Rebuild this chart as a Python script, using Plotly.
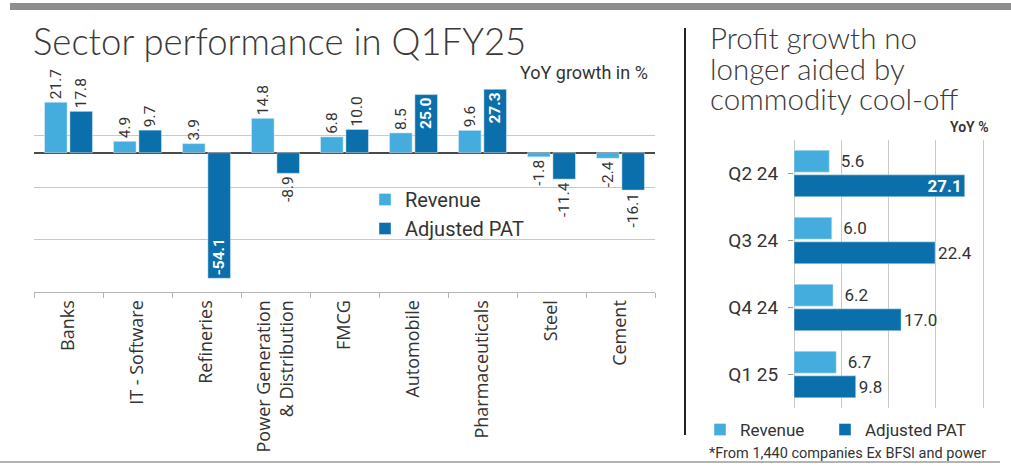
import plotly.graph_objects as go

# ---------------- data ----------------
sectors = ["Banks", "IT - Software", "Refineries", "Power Generation<br>& Distribution",
           "FMCG", "Automobile", "Pharmaceuticals", "Steel", "Cement"]
sector_revenue = [21.7, 4.9, 3.9, 14.8, 6.8, 8.5, 9.6, -1.8, -2.4]
sector_pat = [17.8, 9.7, -54.1, -8.9, 10.0, 25.0, 27.3, -11.4, -16.1]
pat_label_pos = ["outside", "outside", "inside", "outside", "outside", "inside", "inside", "outside", "outside"]

quarters = ["Q2 24", "Q3 24", "Q4 24", "Q1 25"]
quarter_revenue = [5.6, 6.0, 6.2, 6.7]
quarter_pat = [27.1, 22.4, 17.0, 9.8]
quarter_pat_pos = ["inside", "outside", "outside", "outside"]

# ---------------- style ----------------
W, H = 1011, 466
LIGHT = "#45ACDE"
DARK = "#0A6FAA"
TXT = "#333333"
GRID = "#C9C9C9"
FONT = "Roboto"


def fx(p):
    return p / W


def fy(p):
    return 1 - p / H


fig = go.Figure()

fig.add_trace(go.Bar(
    x=sectors, y=sector_revenue, name="Revenue", marker_color=LIGHT,
    texttemplate="%{y:.1f}", textposition="outside", textangle=-90,
    outsidetextfont=dict(family=FONT, size=15.5, color=TXT),
    constraintext="none", cliponaxis=False,
    xaxis="x", yaxis="y", legend="legend",
))
fig.add_trace(go.Bar(
    x=sectors, y=sector_pat, name="Adjusted PAT", marker_color=DARK,
    texttemplate="%{y:.1f}", textposition=pat_label_pos, textangle=-90,
    insidetextanchor="end",
    outsidetextfont=dict(family=FONT, size=15.5, color=TXT),
    insidetextfont=dict(family=FONT, size=15.5, color="white", weight="bold"),
    constraintext="none", cliponaxis=False,
    xaxis="x", yaxis="y", legend="legend",
))

fig.add_trace(go.Bar(
    y=quarters, x=quarter_revenue, orientation="h", name="Revenue", marker_color=LIGHT,
    texttemplate="  %{x:.1f}", textposition="outside", textangle=0,
    outsidetextfont=dict(family=FONT, size=17, color=TXT),
    constraintext="none", cliponaxis=False,
    xaxis="x2", yaxis="y2", legend="legend2",
))
fig.add_trace(go.Bar(
    y=quarters, x=quarter_pat, orientation="h", name="Adjusted PAT", marker_color=DARK,
    texttemplate="%{x:.1f}", textposition=quarter_pat_pos, textangle=0,
    insidetextanchor="end",
    outsidetextfont=dict(family=FONT, size=17, color=TXT),
    insidetextfont=dict(family=FONT, size=17, color="white", weight="bold"),
    constraintext="none", cliponaxis=False,
    xaxis="x2", yaxis="y2", legend="legend3",
))

fig.update_layout(
    width=W, height=H, autosize=False,
    margin=dict(l=0, r=0, t=0, b=0),
    paper_bgcolor="white", plot_bgcolor="white",
    barmode="group", bargap=0.265, bargroupgap=0.11,
    font=dict(family=FONT, color=TXT),
    xaxis=dict(
        domain=[fx(34), fx(655)], anchor="y",
        tickangle=-90, tickfont=dict(family="Open Sans", size=18, color=TXT),
        showline=True, linecolor="#B5B5B5", linewidth=1,
        ticks="outside", tickson="boundaries", ticklen=5, tickcolor="#B5B5B5",
        showgrid=False, fixedrange=True,
    ),
    yaxis=dict(
        domain=[fy(292), fy(83)], anchor="x",
        range=[-60, 30], tick0=30, dtick=22.5,
        showgrid=True, gridcolor=GRID, gridwidth=1,
        zeroline=True, zerolinecolor="#4A4A4A", zerolinewidth=1.5,
        showticklabels=False, ticks="", fixedrange=True,
    ),
    xaxis2=dict(
        domain=[fx(794), fx(794 + 30.3 * 6.3)], anchor="y2",
        range=[0, 30.3], tick0=0, dtick=7.5,
        showgrid=True, gridcolor=GRID, gridwidth=1,
        zeroline=True, zerolinecolor=GRID, zerolinewidth=1,
        showticklabels=False, ticks="", fixedrange=True,
    ),
    yaxis2=dict(
        domain=[fy(408), fy(140)], anchor="x2",
        autorange="reversed",
        ticks="outside", ticklen=5, tickcolor="#9A9A9A",
        tickfont=dict(family=FONT, size=19, color=TXT),
        ticklabelstandoff=6,
        showgrid=False, showline=False, fixedrange=True,
    ),
    legend=dict(
        x=fx(365), y=fy(180), xanchor="left", yanchor="top",
        orientation="v", bgcolor="rgba(0,0,0,0)",
        font=dict(family=FONT, size=20, color=TXT),
        traceorder="normal",
    ),
    legend2=dict(
        x=fx(700), y=fy(412), xanchor="left", yanchor="top",
        orientation="h", bgcolor="rgba(0,0,0,0)",
        font=dict(family=FONT, size=17, color=TXT),
    ),
    legend3=dict(
        x=fx(825), y=fy(412), xanchor="left", yanchor="top",
        orientation="h", bgcolor="rgba(0,0,0,0)",
        font=dict(family=FONT, size=17, color=TXT),
    ),
    showlegend=True,
)

TITLE_FONT = dict(family="Lato", color="#3A3A3A", weight=300)
annotations = [
    dict(text="Sector performance in Q1FY25", x=fx(31), y=fy(41), xanchor="left", yanchor="middle",
         font=dict(size=36.5, **TITLE_FONT)),
    dict(text="YoY growth in %", x=fx(650), y=fy(73), xanchor="right", yanchor="middle",
         font=dict(family=FONT, size=18, color=TXT)),
    dict(text="Profit growth no", x=fx(708), y=fy(38), xanchor="left", yanchor="middle",
         font=dict(size=29.5, **TITLE_FONT)),
    dict(text="longer aided by", x=fx(708), y=fy(68), xanchor="left", yanchor="middle",
         font=dict(size=29.5, **TITLE_FONT)),
    dict(text="commodity cool-off", x=fx(708), y=fy(98), xanchor="left", yanchor="middle",
         font=dict(size=29.5, **TITLE_FONT)),
    dict(text="YoY %", x=fx(991), y=fy(127), xanchor="right", yanchor="middle",
         font=dict(family=FONT, size=14, color=TXT, weight=600)),
    dict(text="*From 1,440 companies Ex BFSI and power", x=fx(707), y=fy(453), xanchor="left",
         yanchor="middle", font=dict(family=FONT, size=14.5, color=TXT)),
]
for a in annotations:
    a.update(xref="paper", yref="paper", showarrow=False)
fig.update_layout(annotations=annotations)

shapes = [
    dict(type="rect", xref="paper", yref="paper", x0=fx(10), x1=1, y0=fy(10), y1=fy(3),
         fillcolor="#8E8E8E", line=dict(width=0)),
    dict(type="line", xref="paper", yref="paper", x0=0, x1=fx(1000), y0=fy(462), y1=fy(462),
         line=dict(color="#9A9A9A", width=1.5)),
    dict(type="line", xref="paper", yref="paper", x0=fx(685), x1=fx(685), y0=fy(28), y1=fy(435),
         line=dict(color="#222222", width=2)),
]
fig.update_layout(shapes=shapes)

fig.write_html("out.html", config={"displayModeBar": False},
               post_script="document.body.style.margin='0';document.body.style.overflow='hidden';")
